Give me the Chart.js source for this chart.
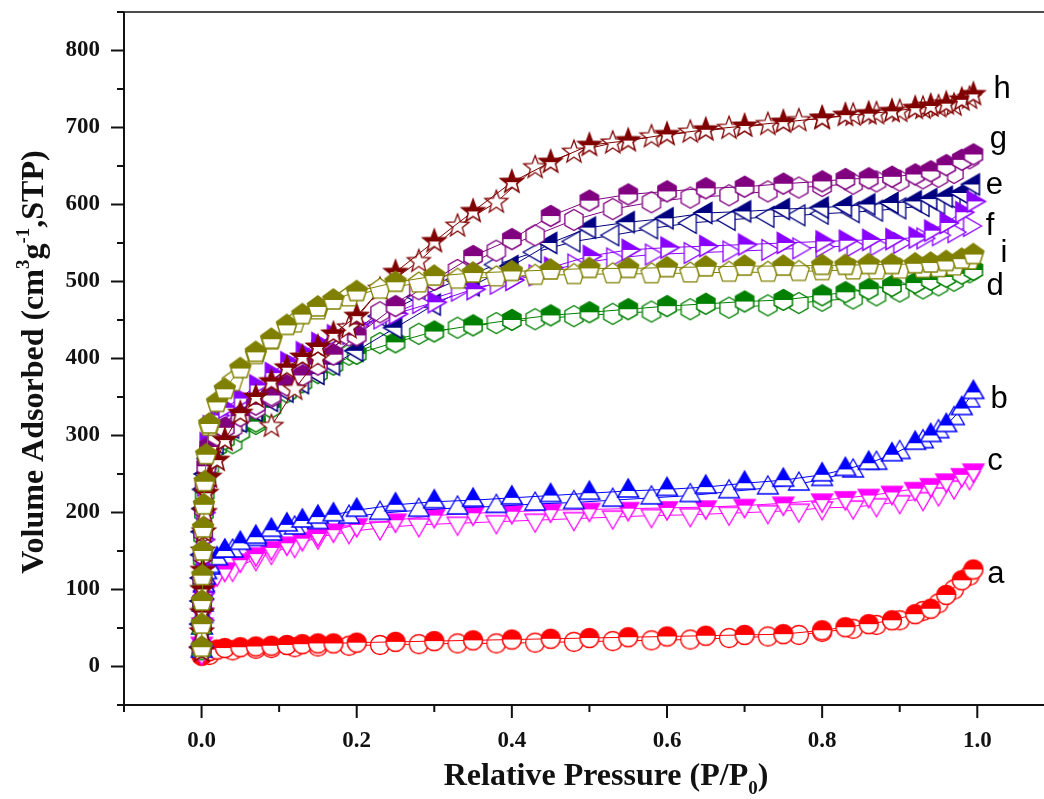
<!DOCTYPE html>
<html>
<head>
<meta charset="utf-8">
<script src="https://cdn.jsdelivr.net/npm/chart.js@4.4.0/dist/chart.umd.min.js"></script>
<style>
  html, body { margin: 0; padding: 0; background: #fff; overflow: hidden; }
  #chart { display: block; }
</style>
</head>
<body>
<canvas id="chart" width="1044" height="799"></canvas>
<script>
// Relative pressure grids (P/P0) for adsorption and desorption branches
const P_ADS = [0.0001, 0.0003, 0.0006, 0.001, 0.0015, 0.002, 0.003, 0.004, 0.006, 0.01,
  0.02, 0.03, 0.05, 0.07, 0.09, 0.11, 0.13, 0.15, 0.17, 0.2,
  0.25, 0.3, 0.35, 0.4, 0.45, 0.5, 0.55, 0.6, 0.65, 0.7,
  0.75, 0.8, 0.83, 0.86, 0.89, 0.92, 0.94, 0.96, 0.98, 0.995];
const P_DES = [0.99, 0.97, 0.95, 0.93, 0.9, 0.87, 0.84, 0.8, 0.77, 0.73,
  0.68, 0.63, 0.58, 0.53, 0.48, 0.43, 0.38, 0.33, 0.28, 0.23,
  0.19, 0.15, 0.12, 0.09, 0.07, 0.04, 0.01];

// Volume adsorbed (cm3/g STP)
const A_ADS = [14, 15, 16, 17, 17, 18, 18, 19, 19, 20, 22, 24, 25, 26, 27, 28, 29, 30, 30, 31,
  32, 33, 34, 35, 36, 37, 38, 39, 40, 41, 42, 47, 51, 55, 60, 68, 75, 93, 112, 126];
const A_DES = [118, 100, 82, 72, 60, 54, 49, 45, 41, 39, 37, 35, 34, 33, 32, 31, 30, 30, 29, 28,
  27, 26, 25, 24, 23, 21, 15];

const B_ADS = [20, 35, 50, 65, 80, 95, 105, 115, 122, 130, 140, 150, 160, 168, 177, 184, 189, 194, 197, 203,
  210, 214, 216, 219, 222, 225, 228, 230, 233, 238, 242, 249, 256, 264, 275, 290, 300, 313, 335, 356];
const B_DES = [345, 322, 305, 292, 278, 264, 254, 243, 237, 232, 227, 222, 219, 216, 213, 211, 208, 206, 203, 199,
  194, 187, 180, 172, 165, 150, 128];

const C_ADS = [18, 30, 42, 55, 68, 80, 90, 98, 105, 113, 120, 126, 138, 146, 154, 160, 166, 172, 177, 184,
  190, 196, 199, 201, 203, 204, 205, 206, 207, 209, 212, 216, 219, 222, 226, 231, 236, 242, 249, 255];
const C_DES = [245, 233, 224, 218, 214, 210, 207, 206, 203, 201, 199, 197, 196, 194, 192, 190, 188, 186, 184, 180,
  175, 168, 157, 148, 140, 126, 108];

const D_ADS = [22, 50, 80, 110, 140, 170, 200, 225, 245, 268, 285, 295, 305, 318, 336, 356, 369, 381, 392, 406,
  421, 435, 443, 450, 456, 460, 464, 468, 471, 474, 476, 482, 486, 490, 494, 498, 502, 506, 510, 515];
const D_DES = [512, 501, 495, 491, 487, 482, 478, 475, 472, 469, 466, 464, 461, 458, 455, 451, 446, 440, 432, 420,
  405, 385, 365, 340, 315, 290, 260];

const E_ADS = [25, 55, 85, 115, 145, 175, 205, 230, 250, 270, 290, 302, 318, 332, 345, 357, 368, 380, 392, 410,
  440, 470, 495, 520, 550, 570, 577, 582, 589, 591, 594, 596, 598, 600, 602, 604, 607, 610, 615, 626];
const E_DES = [618, 606, 601, 598, 595, 592, 590, 588, 586, 584, 580, 576, 569, 560, 552, 538, 522, 502, 480, 455,
  430, 400, 375, 352, 336, 310, 270];

const F_ADS = [25, 60, 95, 130, 165, 200, 235, 265, 290, 312, 326, 336, 348, 365, 381, 395, 408, 420, 430, 443,
  458, 473, 490, 502, 518, 533, 541, 544, 546, 548, 550, 552, 553, 554, 555, 557, 566, 576, 590, 604];
const F_DES = [572, 564, 560, 556, 550, 547, 546, 545, 543, 541, 539, 537, 535, 530, 522, 508, 497, 488, 472, 452,
  432, 410, 390, 365, 345, 320, 285];

const G_ADS = [25, 55, 85, 115, 145, 175, 205, 235, 260, 285, 300, 310, 325, 340, 352, 365, 378, 392, 405, 430,
  468, 502, 533, 555, 585, 605, 613, 617, 621, 623, 627, 630, 633, 634, 636, 639, 643, 651, 658, 665];
const G_DES = [660, 641, 636, 634, 631, 630, 627, 624, 622, 617, 612, 609, 603, 594, 580, 560, 540, 515, 490, 460,
  430, 400, 375, 350, 335, 310, 280];

const H_ADS = [20, 45, 70, 100, 125, 150, 175, 200, 225, 246, 268, 294, 329, 350, 370, 388, 402, 415, 432, 455,
  512, 552, 591, 629, 655, 677, 683, 691, 697, 702, 707, 712, 716, 718, 721, 725, 728, 731, 736, 743];
const H_DES = [738, 729, 727, 725, 721, 718, 716, 712, 709, 704, 699, 694, 688, 680, 668, 648, 603, 572, 526, 490,
  440, 400, 360, 312, null, null, null];

const I_ADS = [25, 55, 85, 118, 150, 180, 210, 240, 275, 315, 343, 360, 387, 408, 425, 443, 457, 467, 476, 487,
  499, 507, 511, 513, 515, 517, 517, 518, 519, 520, 520, 521, 521, 522, 522, 523, 524, 526, 529, 535];
const I_DES = [528, 520, 518, 517, 516, 515, 515, 514, 513, 512, 512, 511, 510, 510, 509, 508, 506, 503, 498, 490,
  480, 463, 446, 424, 405, 370, 312];

// Tick values
const X_TICKS = [0, 0.2, 0.4, 0.6, 0.8, 1.0];
const Y_TICKS = [0, 100, 200, 300, 400, 500, 600, 700, 800];

// Curve labels (text, P/P0, volume)
const LABEL_TEXT = ['h', 'g', 'e', 'f', 'i', 'd', 'b', 'c', 'a'];
const LABEL_X = [1.021, 1.016, 1.011, 1.011, 1.030, 1.012, 1.017, 1.013, 1.013];
const LABEL_Y = [738, 674, 613, 561, 525, 483, 336, 255, 109];

// series: name, colour, marker, data (first entry is drawn on top)
const SERIES = [
  { name: 'i', color: '#808000', shape: 'pentagon', ads: I_ADS, des: I_DES },
  { name: 'h', color: '#800000', shape: 'star', ads: H_ADS, des: H_DES },
  { name: 'g', color: '#800080', shape: 'hexagon', ads: G_ADS, des: G_DES },
  { name: 'f', color: '#8a00ff', shape: 'triRight', ads: F_ADS, des: F_DES },
  { name: 'e', color: '#000080', shape: 'triLeft', ads: E_ADS, des: E_DES },
  { name: 'd', color: '#008000', shape: 'hexagon', ads: D_ADS, des: D_DES },
  { name: 'b', color: '#0000ff', shape: 'triUp', ads: B_ADS, des: B_DES },
  { name: 'c', color: '#ff00ff', shape: 'triDown', ads: C_ADS, des: C_DES },
  { name: 'a', color: '#ff0000', shape: 'circle', ads: A_ADS, des: A_DES }
];

const SHAPES = {
  circle: { r: 9.5 },
  triUp: { n: 3, start: -90, r: 12 },
  triDown: { n: 3, start: 90, r: 12 },
  triLeft: { n: 3, start: 180, r: 12 },
  triRight: { n: 3, start: 0, r: 12 },
  hexagon: { n: 6, start: -90, r: 10.5 },
  pentagon: { n: 5, start: -90, r: 11 },
  star: { n: 5, start: -90, r: 12, inner: 0.42 }
};

function shapePath(g, shape) {
  const s = SHAPES[shape];
  g.beginPath();
  if (shape === 'circle') { g.arc(0, 0, s.r, 0, Math.PI * 2); return; }
  const steps = s.inner ? s.n * 2 : s.n;
  for (let k = 0; k < steps; k++) {
    const ang = (s.start + k * 360 / steps) * Math.PI / 180;
    const rr = s.inner && k % 2 ? s.r * s.inner : s.r;
    const px = rr * Math.cos(ang), py = rr * Math.sin(ang);
    if (k === 0) g.moveTo(px, py); else g.lineTo(px, py);
  }
  g.closePath();
}

// half-filled (adsorption) or open (desorption) marker image
function makeMarker(shape, color, half) {
  const size = 30;
  const c = document.createElement('canvas');
  c.width = size; c.height = size;
  const g = c.getContext('2d');
  g.translate(size / 2, size / 2);
  shapePath(g, shape);
  g.fillStyle = '#fff';
  g.fill();
  if (half) {
    g.save();
    g.beginPath();
    g.rect(-size / 2, -size / 2, size, size / 2);
    g.clip();
    shapePath(g, shape);
    g.fillStyle = color;
    g.fill();
    g.restore();
  }
  shapePath(g, shape);
  g.lineWidth = half ? 1.5 : 1.3;
  g.strokeStyle = color;
  g.stroke();
  return c;
}

function toPoints(xs, ys) {
  return xs.map((x, i) => ({ x: x, y: ys[i] })).filter(p => p.y !== null);
}

// adsorption drawn above desorption inside each series
const datasets = [];
SERIES.forEach((s, idx) => {
  datasets.push({
    label: s.name + ' adsorption',
    data: toPoints(P_ADS, s.ads),
    borderColor: s.color,
    borderWidth: 1,
    pointStyle: makeMarker(s.shape, s.color, true),
    pointRadius: 10,
    pointHoverRadius: 10,
    order: idx * 2
  });
  datasets.push({
    label: s.name + ' desorption',
    data: toPoints(P_DES, s.des),
    borderColor: s.color,
    borderWidth: 1,
    pointStyle: makeMarker(s.shape, s.color, false),
    pointRadius: 10,
    pointHoverRadius: 10,
    order: idx * 2 + 1
  });
});

// draw several text pieces with super/subscripts, centred on cx
function drawRich(ctx, parts, cx, baseline) {
  let total = 0;
  parts.forEach(p => {
    ctx.font = 'bold ' + p.size + 'px "Liberation Serif"';
    p.w = ctx.measureText(p.t).width;
    total += p.w;
  });
  let xx = cx - total / 2;
  parts.forEach(p => {
    ctx.font = 'bold ' + p.size + 'px "Liberation Serif"';
    ctx.fillText(p.t, xx, baseline + p.dy);
    xx += p.w;
  });
}

// Axes frame, ticks, titles and curve labels
const framePlugin = {
  id: 'frame',
  afterDraw(chart) {
    const ctx = chart.ctx;
    const area = chart.chartArea;
    const xs = chart.scales.x, ys = chart.scales.y;
    ctx.save();
    ctx.strokeStyle = '#111';
    ctx.fillStyle = '#111';

    // axis lines
    ctx.lineWidth = 2;
    ctx.beginPath();
    ctx.moveTo(area.left, area.top);
    ctx.lineTo(area.left, area.bottom + 1);
    ctx.moveTo(area.left - 1, area.bottom);
    ctx.lineTo(chart.width, area.bottom);
    ctx.stroke();
    ctx.lineWidth = 1.5;
    ctx.beginPath();
    ctx.moveTo(area.left, area.top);
    ctx.lineTo(chart.width, area.top);
    ctx.stroke();

    // ticks
    ctx.lineWidth = 2;
    ctx.beginPath();
    for (let k = -1; k <= 10; k++) {
      const px = xs.getPixelForValue(k / 10);
      const len = k % 2 === 0 ? 13 : 7;
      ctx.moveTo(px, area.bottom);
      ctx.lineTo(px, area.bottom + len);
    }
    for (let v = -50; v <= 850; v += 50) {
      const py = ys.getPixelForValue(v);
      const len = v % 100 === 0 ? 13 : 7;
      ctx.moveTo(area.left, py);
      ctx.lineTo(area.left - len, py);
    }
    ctx.stroke();

    // axis titles
    ctx.textAlign = 'left';
    ctx.textBaseline = 'alphabetic';
    drawRich(ctx, [
      { t: 'Relative Pressure (P/P', size: 32, dy: 0 },
      { t: '0', size: 19, dy: 9 },
      { t: ')', size: 32, dy: 0 }
    ], 606, 785);

    ctx.save();
    ctx.translate(43, 362);
    ctx.rotate(-Math.PI / 2);
    drawRich(ctx, [
      { t: 'Volume Adsorbed (cm', size: 32, dy: 0 },
      { t: '3', size: 19, dy: -14 },
      { t: 'g', size: 32, dy: 0 },
      { t: '-1', size: 19, dy: -14 },
      { t: ',STP)', size: 32, dy: 0 }
    ], 0, 0);
    ctx.restore();

    // curve labels
    ctx.font = '31px "Liberation Sans"';
    ctx.fillStyle = '#000';
    LABEL_TEXT.forEach((t, i) => {
      ctx.fillText(t, xs.getPixelForValue(LABEL_X[i]), ys.getPixelForValue(LABEL_Y[i]));
    });
    ctx.restore();
  }
};

const tickFont = { family: '"Liberation Serif"', weight: 'bold', size: 23 };

function noPadding(s) {
  s.paddingTop = 0;
  s.paddingBottom = 0;
  s.paddingLeft = 0;
  s.paddingRight = 0;
}

new Chart(document.getElementById('chart'), {
  type: 'line',
  data: { datasets: datasets },
  options: {
    responsive: false,
    animation: false,
    devicePixelRatio: 1,
    layout: { autoPadding: false, padding: { top: 12, left: 0, right: 0, bottom: 0 } },
    elements: { line: { tension: 0, fill: false } },
    plugins: { legend: { display: false }, tooltip: { enabled: false } },
    scales: {
      x: {
        type: 'linear',
        min: -0.1,
        max: 1.086,
        grid: { display: false, drawTicks: false },
        border: { display: false },
        afterBuildTicks: s => { s.ticks = X_TICKS.map(v => ({ value: v })); },
        afterFit: s => { s.height = 94; noPadding(s); },
        ticks: {
          color: '#111',
          font: tickFont,
          padding: 22,
          maxRotation: 0,
          autoSkip: false,
          callback: v => Number(v).toFixed(1)
        }
      },
      y: {
        type: 'linear',
        min: -50,
        max: 850,
        grid: { display: false, drawTicks: false },
        border: { display: false },
        afterBuildTicks: s => { s.ticks = Y_TICKS.map(v => ({ value: v })); },
        afterFit: s => { s.width = 124; noPadding(s); },
        ticks: {
          color: '#111',
          font: tickFont,
          padding: 24,
          autoSkip: false,
          callback: v => String(v)
        }
      }
    }
  },
  plugins: [framePlugin]
});
</script>
</body>
</html>
